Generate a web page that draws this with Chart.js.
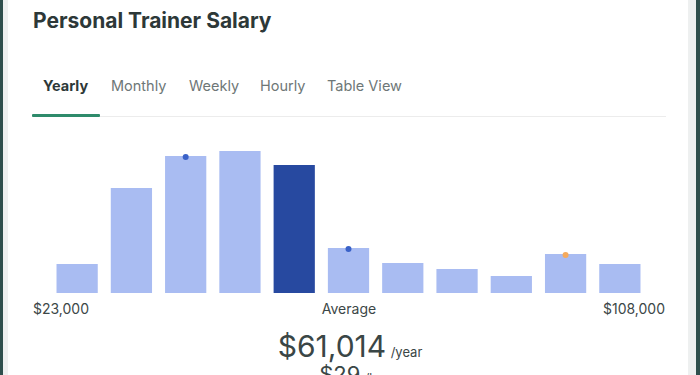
<!DOCTYPE html>
<html>
<head>
<meta charset="utf-8">
<script src="https://cdn.jsdelivr.net/npm/chart.js@4.4.0/dist/chart.umd.min.js"></script>
<style>
  html, body { margin: 0; padding: 0; }
  body {
    width: 700px; height: 375px; overflow: hidden; position: relative;
    background: #ffffff; font-family: Inter, "Noto Sans", sans-serif; color: #2f3b3b;
  }
  .borde-izq { position: absolute; left: 0; top: 0; width: 3px; height: 375px; background: #2f4f4d; }
  .franja-izq { position: absolute; left: 3px; top: 0; width: 5px; height: 375px; background: #eef0f0; }
  .borde-der { position: absolute; left: 696px; top: 0; width: 4px; height: 375px; background: #2f4f4d; }
  .franja-der { position: absolute; left: 688px; top: 0; width: 8px; height: 375px; background: #eef0f0; }
  .titulo { position: absolute; left: 33px; top: 10px; font-size: 21px; font-weight: 700; line-height: 1; color: #2d3838; letter-spacing: 0; }
  .tab { position: absolute; top: 79px; font-size: 14.5px; line-height: 1; color: #6e7777; }
  .tab.activa { font-weight: 700; color: #2d3838; }
  .linea-tabs { position: absolute; left: 32px; top: 116px; width: 634px; height: 1px; background: #ececec; }
  .subrayado { position: absolute; left: 32px; top: 114px; width: 68px; height: 3px; background: #2e8b6b; border-radius: 1px; }
  #contenedor { position: absolute; left: 50px; top: 143px; width: 597px; height: 150px; }
  .rango { position: absolute; top: 302px; font-size: 14px; line-height: 1; color: #3c4747; }
  .promedio { position: absolute; left: 0; width: 700px; text-align: center; top: 331px; line-height: 1; color: #3a4646; }
  .promedio .grande { font-size: 30px; }
  .promedio .chica { font-size: 13px; }
  .horario { position: absolute; left: 0; width: 700px; text-align: center; top: 363px; line-height: 1; color: #3a4646; }
  .horario .grande { font-size: 22px; }
  .horario .chica { font-size: 12px; }
</style>
</head>
<body>
<div class="borde-izq"></div>
<div class="franja-izq"></div>
<div class="franja-der"></div>
<div class="borde-der"></div>

<div class="titulo">Personal Trainer Salary</div>
<div id="tabs"></div>
<div class="linea-tabs"></div>
<div class="subrayado"></div>

<div id="contenedor"><canvas id="grafico-salario"></canvas></div>
<div id="rangos"></div>

<div class="promedio"><span class="grande">$61,014</span> <span class="chica">/year</span></div>
<div class="horario"><span class="grande">$29</span> <span class="chica">/hr</span></div>

<script>
// Datos
const pestanas = ["Yearly", "Monthly", "Weekly", "Hourly", "Table View"];
const posPestanas = [43, 111, 189, 260, 327];
const intervalos = ["1", "2", "3", "4", "5", "6", "7", "8", "9", "10", "11"];
const alturas = [29, 105, 137, 142, 128, 45, 30, 24, 17, 39, 29];
const marcadores = [null, null, 136, null, null, 44, null, null, null, 38, null];
const etiquetasRango = ["$23,000", "Average", "$108,000"];

const colorClaro = "#a9bcf2";
const colorOscuro = "#2749a0";
const indiceActual = 4;

// Pestañas
function generarPestanas() {
  const cont = document.getElementById("tabs");
  pestanas.forEach((p, i) => {
    const d = document.createElement("div");
    d.className = "tab" + (i === 0 ? " activa" : "");
    d.style.left = posPestanas[i] + "px";
    d.textContent = p;
    cont.appendChild(d);
  });
}

// Etiquetas bajo las barras
function generarRangos() {
  const cont = document.getElementById("rangos");
  const estilos = [
    "left:33px;",
    "left:249px;width:200px;text-align:center;",
    "right:35px;text-align:right;",
  ];
  etiquetasRango.forEach((t, i) => {
    const d = document.createElement("div");
    d.className = "rango";
    d.style.cssText = estilos[i];
    d.textContent = t;
    cont.appendChild(d);
  });
}

function crearGrafico() {
  const ctx = document.getElementById("grafico-salario").getContext("2d");
  new Chart(ctx, {
    type: "bar",
    data: {
      labels: intervalos,
      datasets: [
        {
          type: "line",
          data: marcadores,
          showLine: false,
          pointRadius: 3,
          pointBorderWidth: 0,
          pointBackgroundColor: marcadores.map((v, i) => (i === 9 ? "#f5aa5c" : "#3a62c8")),
          order: 0,
        },
        {
          data: alturas,
          backgroundColor: alturas.map((v, i) => (i === indiceActual ? colorOscuro : colorClaro)),
          borderWidth: 0,
          categoryPercentage: 0.76,
          barPercentage: 1,
          order: 1,
        },
      ],
    },
    options: {
      responsive: true,
      maintainAspectRatio: false,
      animation: false,
      layout: { padding: 0, autoPadding: false },
      plugins: { legend: { display: false }, tooltip: { enabled: false } },
      scales: {
        x: { display: false },
        y: { display: false, min: 0, max: 150 },
      },
    },
  });
}

document.addEventListener("DOMContentLoaded", () => {
  generarPestanas();
  generarRangos();
  crearGrafico();
});
</script>
</body>
</html>
